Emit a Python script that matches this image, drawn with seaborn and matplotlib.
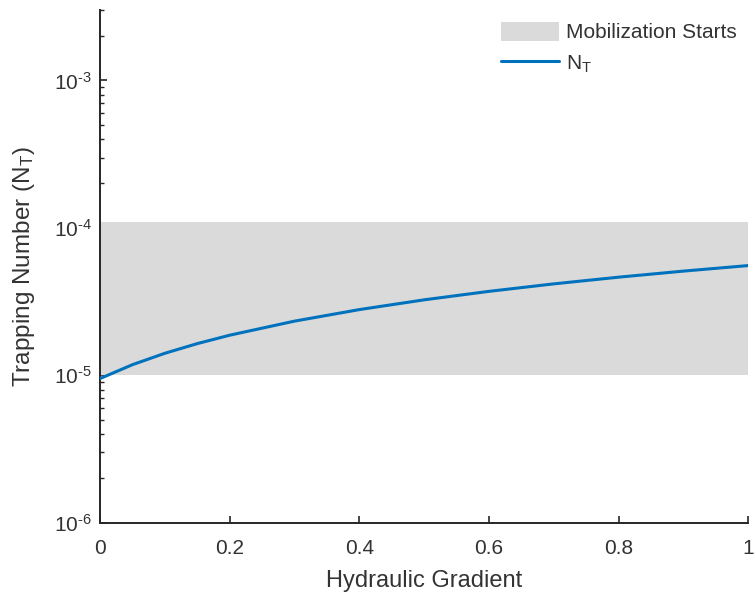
import numpy as np
import pandas as pd
import seaborn as sns
import matplotlib
matplotlib.use("Agg")
import matplotlib.pyplot as plt
from matplotlib.patches import Patch
from matplotlib.lines import Line2D
from matplotlib.ticker import LogLocator, FixedLocator, FuncFormatter

# Trapping number versus hydraulic gradient
gradient = [0.0, 0.05, 0.1, 0.15, 0.2, 0.3, 0.4, 0.5, 0.6, 0.7, 0.8, 0.9, 1.0]
trapping = [9.5e-6, 1.18e-5, 1.41e-5, 1.64e-5, 1.87e-5, 2.33e-5, 2.79e-5,
            3.25e-5, 3.71e-5, 4.17e-5, 4.63e-5, 5.09e-5, 5.55e-5]

# Range of trapping numbers where mobilization starts
band_low = 1.0e-5
band_high = 1.09e-4

x_ticks = [0, 0.2, 0.4, 0.6, 0.8, 1]
x_tick_labels = ["0", "0.2", "0.4", "0.6", "0.8", "1"]

sns.set_style("ticks")
plt.rcParams["font.family"] = ["Liberation Sans", "DejaVu Sans"]
plt.rcParams["mathtext.fontset"] = "custom"
plt.rcParams["mathtext.rm"] = "Liberation Sans"
plt.rcParams["mathtext.it"] = "Liberation Sans:italic"
plt.rcParams["axes.unicode_minus"] = False

text_color = "#333333"
axis_color = "#262626"
line_color = "#0072BD"
band_color = "#DADADA"

df = pd.DataFrame({"Hydraulic Gradient": gradient, "Trapping Number": trapping})

fig = plt.figure(figsize=(7.54, 5.92), dpi=100)
ax = fig.add_axes([0.1326, 0.117, 0.860, 0.866])

ax.axhspan(band_low, band_high, xmin=0, xmax=1, color=band_color, lw=0, zorder=1)
sns.lineplot(data=df, x="Hydraulic Gradient", y="Trapping Number", ax=ax,
             color=line_color, lw=2.2, zorder=3)

ax.set_yscale("log")
ax.set_xlim(0, 1)
ax.set_ylim(1e-6, 3e-3)

ax.xaxis.set_major_locator(FixedLocator(x_ticks))
ax.set_xticklabels(x_tick_labels)
ax.yaxis.set_major_locator(LogLocator(base=10, numticks=10))
ax.yaxis.set_minor_locator(LogLocator(base=10, subs=np.arange(2, 10), numticks=20))


def decade_label(v, pos):
    e = int(round(np.log10(v)))
    return "10$^{\\text{%d}}$" % e


ax.yaxis.set_major_formatter(FuncFormatter(decade_label))

for side in ["top", "right"]:
    ax.spines[side].set_visible(False)
for side in ["left", "bottom"]:
    ax.spines[side].set_color(axis_color)
    ax.spines[side].set_linewidth(1.4)

ax.tick_params(axis="both", which="major", direction="in", length=5, width=1.2,
               colors=axis_color, labelcolor=text_color, labelsize=15)
ax.tick_params(axis="x", which="major", pad=12)
ax.tick_params(axis="y", which="major", pad=6)
ax.tick_params(axis="y", which="minor", direction="in", length=3, width=1.0,
               colors=axis_color)

ax.set_xlabel("Hydraulic Gradient", fontsize=17, color=text_color, labelpad=8)
ax.set_ylabel("Trapping Number (N$_\\mathregular{T}$)", fontsize=17.5,
              color=text_color, labelpad=12)

handles = [Patch(facecolor=band_color, edgecolor="none"),
           Line2D([0], [0], color=line_color, lw=2.2)]
labels = ["Mobilization Starts", "N$_\\mathregular{T}$"]
leg = ax.legend(handles, labels, loc="upper left", frameon=False, fontsize=15,
                bbox_to_anchor=(501 / 754, 1 - 22 / 592), bbox_transform=fig.transFigure,
                borderaxespad=0, borderpad=0,
                handlelength=2.8, handleheight=1.0, handletextpad=0.33,
                labelspacing=0.5)
for t in leg.get_texts():
    t.set_color(text_color)

fig.savefig("out.png", dpi=100)
